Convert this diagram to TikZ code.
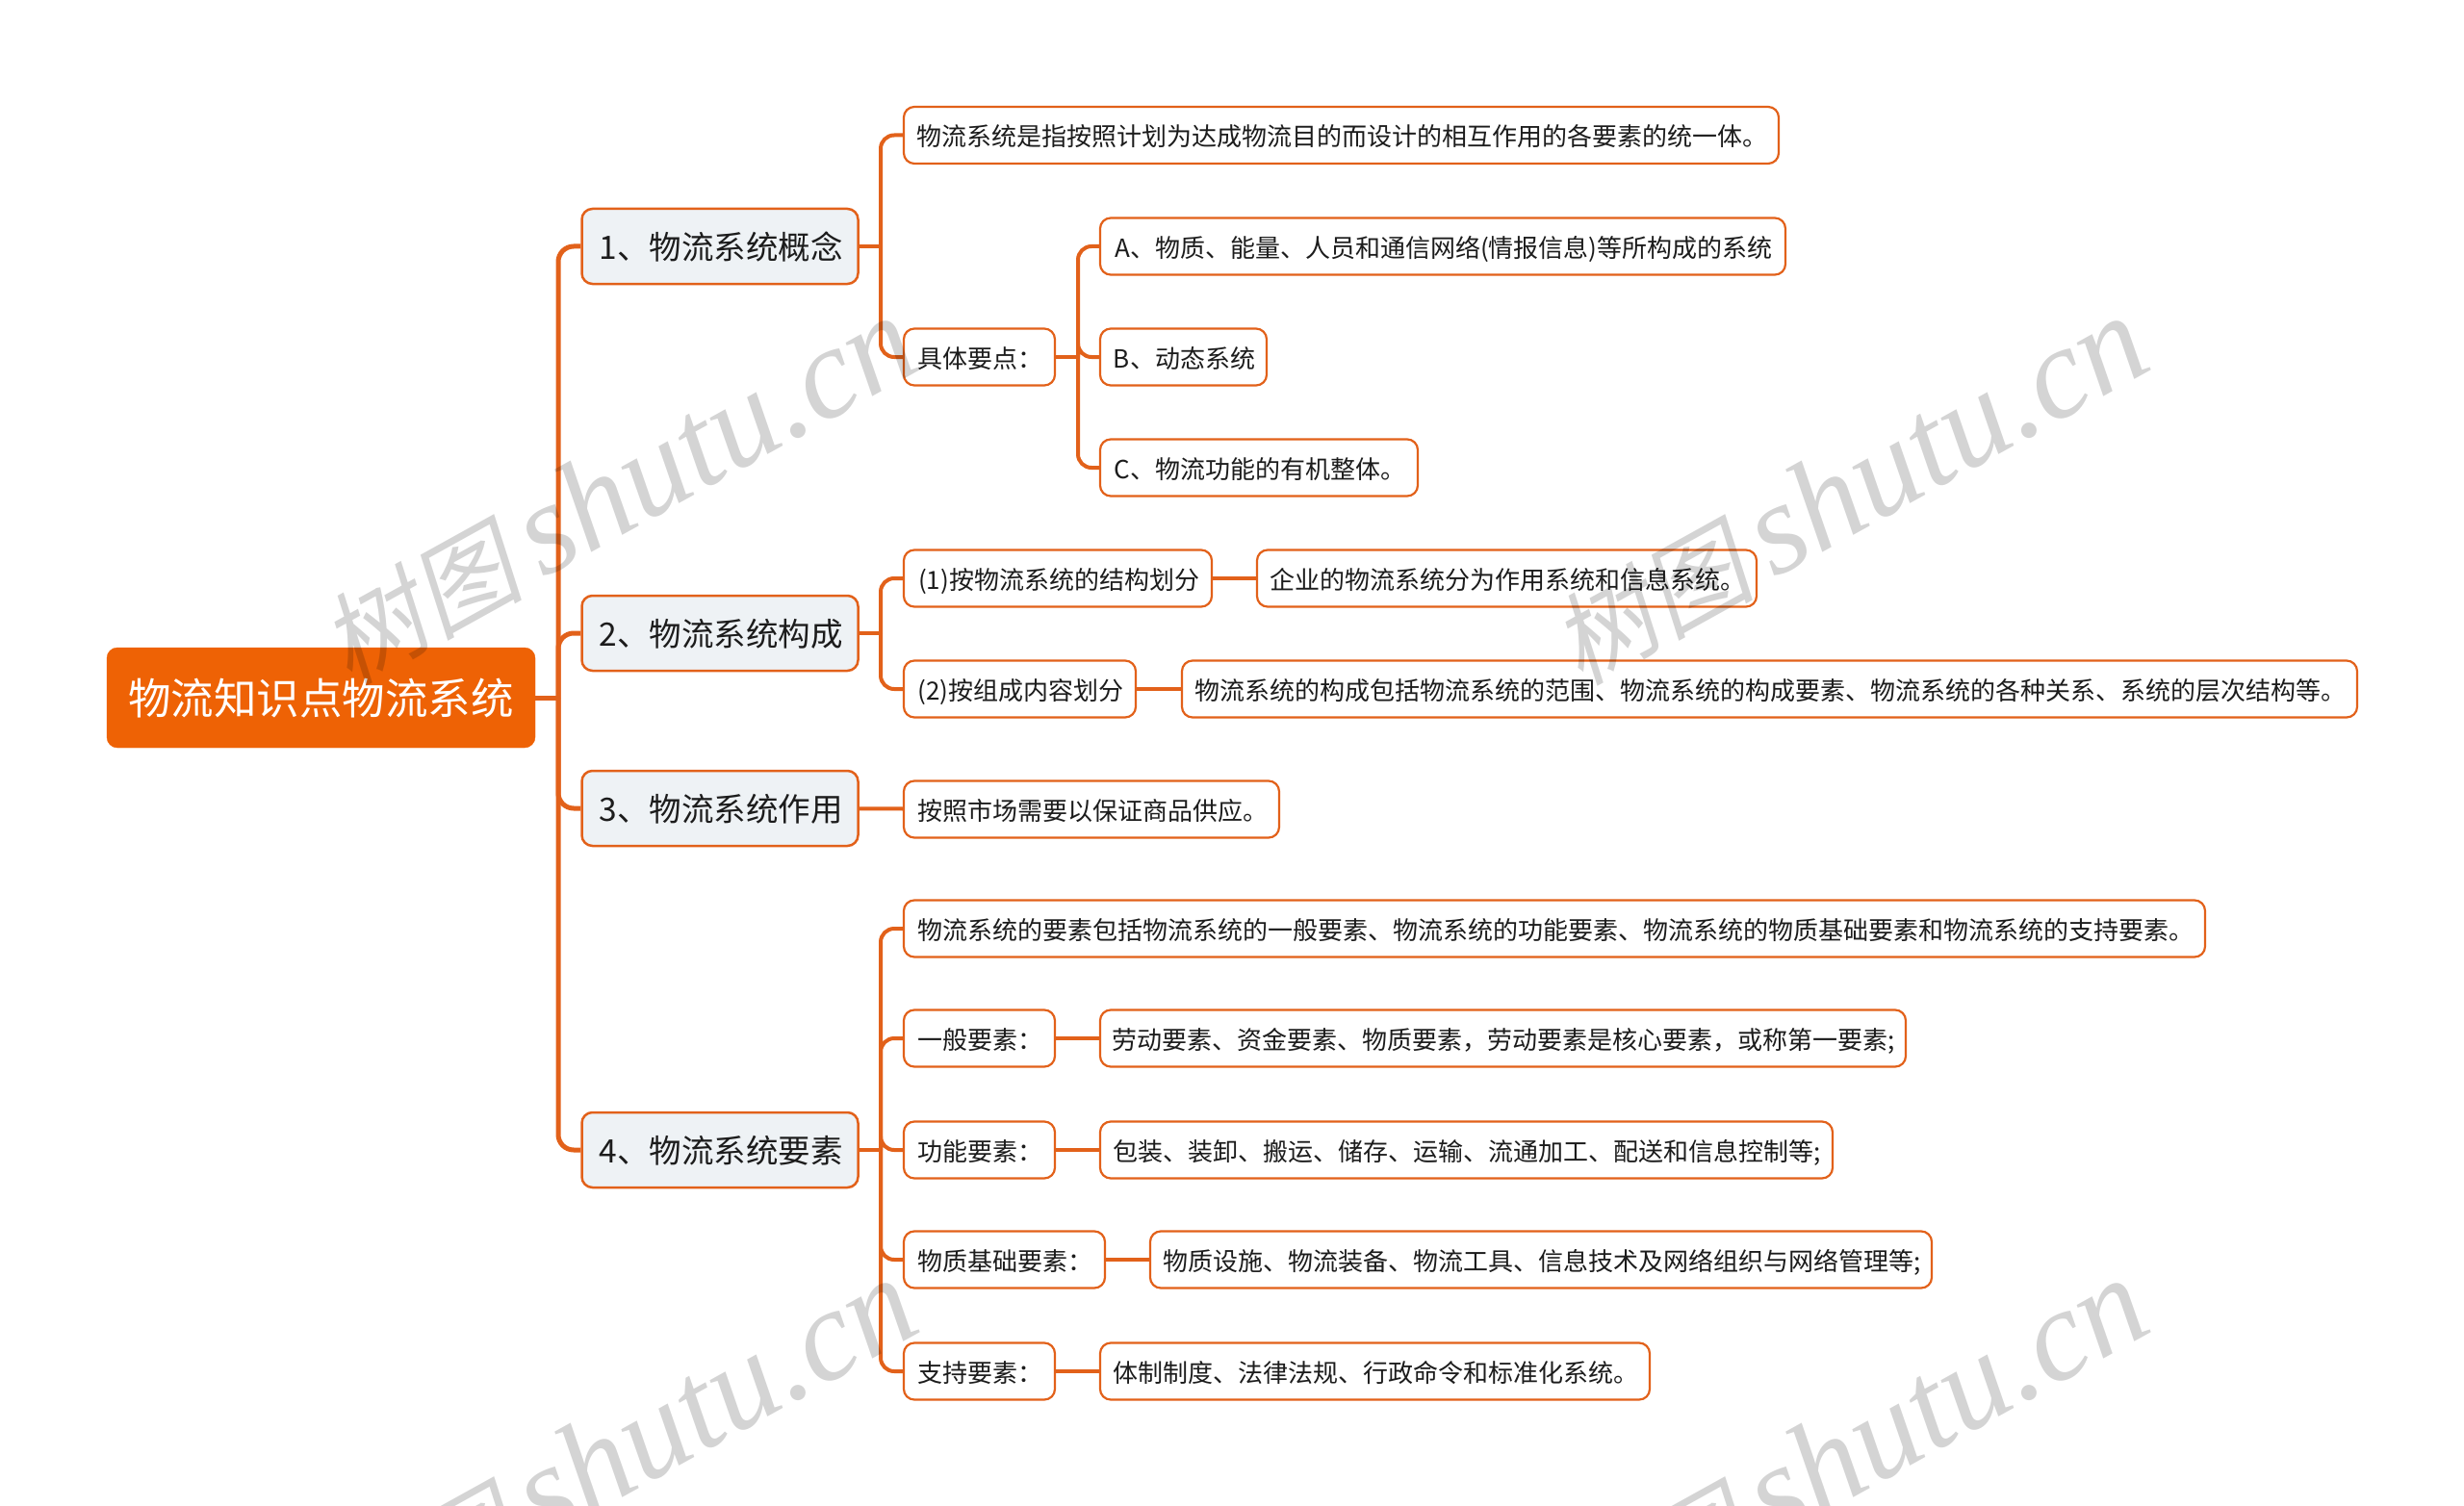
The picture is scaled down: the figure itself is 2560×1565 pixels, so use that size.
\documentclass[tikz,border=0pt]{standalone}
\usepackage{xcolor}
\usepackage{fontspec}
\setmainfont{Noto Sans CJK SC}
\newfontfamily\wmlatin{Liberation Serif}
\newfontfamily\wmcjk[FakeSlant=0.2]{Noto Sans CJK SC}
\definecolor{mainorange}{HTML}{EE6205}
\definecolor{linkorange}{HTML}{E2611A}
\definecolor{topicgray}{HTML}{EEF2F5}
\definecolor{textdark}{HTML}{1C1C1C}

\newcommand{\wmtext}{{\wmcjk\fontsize{105pt}{120pt}\selectfont 树图}\hspace{20pt}{\wmlatin\itshape\fontsize{135pt}{130pt}\selectfont shutu.cn}}

\begin{document}
\begin{tikzpicture}[
    x=1pt, y=-1pt,
    rootbox/.style={rectangle, rounded corners=11pt, fill=mainorange, draw=mainorange, minimum width=445pt, minimum height=104pt, align=center, text=white, font=\fontsize{44.5pt}{52pt}\selectfont},
    topic/.style={rectangle, rounded corners=11pt, draw=linkorange, line width=2.5pt, fill=topicgray, minimum width=287pt, minimum height=78pt, inner xsep=0pt, inner ysep=0pt, text height=34pt, text depth=7pt, text=textdark, font=\fontsize{33.5pt}{40pt}\selectfont, execute at begin node={\hspace*{2pt}}},
    leaf/.style={rectangle, rounded corners=11pt, draw=linkorange, line width=2.2pt, fill=white, minimum height=59pt, inner xsep=0pt, inner ysep=0pt, text height=28pt, text depth=5.6pt, text=textdark, font=\fontsize{26pt}{32pt}\selectfont, execute at begin node={\hspace*{2pt}}},
    mainlink/.style={draw=linkorange, line width=5pt, rounded corners=16pt},
    sublink/.style={draw=linkorange, line width=4pt, rounded corners=14pt},
    wmark/.style={rotate=29, text=black, text opacity=0.17, inner sep=0pt}
]
    \useasboundingbox (0,0) rectangle (2560,1565);

    % Root
    \node[rootbox] (root) at (333.5,725) {物流知识点物流系统};

    % Topics
    \node[topic] (sys1) at (748,256) {1、物流系统概念};
    \node[topic] (sys2) at (748,658) {2、物流系统构成};
    \node[topic] (sys3) at (748,840) {3、物流系统作用};
    \node[topic] (sys4) at (748,1195) {4、物流系统要素};

    % Topic 1
    \node[leaf, minimum width=909pt] (define) at (1393.5,140.5) {物流系统是指按照计划为达成物流目的而设计的相互作用的各要素的统一体。};
    \node[leaf, minimum width=157pt] (points) at (1017.5,371) {具体要点：};
    \node[leaf, minimum width=712pt] (pointa) at (1499,256) {A、物质、能量、人员和通信网络(情报信息)等所构成的系统};
    \node[leaf, minimum width=173pt] (pointb) at (1229.5,371) {B、动态系统};
    \node[leaf, minimum width=330pt] (pointc) at (1308,486) {C、物流功能的有机整体。};

    % Topic 2
    \node[leaf, minimum width=320pt] (bystruct) at (1099,601) {(1)按物流系统的结构划分};
    \node[leaf, minimum width=519pt] (structtxt) at (1565.5,601) {企业的物流系统分为作用系统和信息系统。};
    \node[leaf, minimum width=241pt] (bycontent) at (1059.5,716) {(2)按组成内容划分};
    \node[leaf, minimum width=1221pt] (contenttxt) at (1838.5,716) {物流系统的构成包括物流系统的范围、物流系统的构成要素、物流系统的各种关系、系统的层次结构等。};

    % Topic 3
    \node[leaf, minimum width=390pt] (effect) at (1134,841) {按照市场需要以保证商品供应。};

    % Topic 4
    \node[leaf, minimum width=1352pt] (element) at (1615,965) {物流系统的要素包括物流系统的一般要素、物流系统的功能要素、物流系统的物质基础要素和物流系统的支持要素。};
    \node[leaf, minimum width=157pt] (general) at (1017.5,1079) {一般要素：};
    \node[leaf, minimum width=837pt] (generaltxt) at (1561.5,1079) {劳动要素、资金要素、物质要素，劳动要素是核心要素，或称第一要素;};
    \node[leaf, minimum width=157pt] (func) at (1017.5,1195) {功能要素：};
    \node[leaf, minimum width=761pt] (functxt) at (1523.5,1195) {包装、装卸、搬运、储存、运输、流通加工、配送和信息控制等;};
    \node[leaf, minimum width=209pt] (base) at (1043.5,1309) {物质基础要素：};
    \node[leaf, minimum width=812pt] (basetxt) at (1601,1309) {物质设施、物流装备、物流工具、信息技术及网络组织与网络管理等;};
    \node[leaf, minimum width=157pt] (support) at (1017.5,1425) {支持要素：};
    \node[leaf, minimum width=571pt] (supporttxt) at (1428.5,1425) {体制制度、法律法规、行政命令和标准化系统。};

    % Junctions
    \coordinate (busroot) at (580,725);
    \coordinate (busone) at (915,256);
    \coordinate (bustwo) at (915,658);
    \coordinate (busfour) at (915,1195);
    \coordinate (buspoints) at (1120,371);

    % Links from root
    \draw[mainlink] (root.east) -- (busroot);
    \foreach \n in {sys1,sys2,sys3,sys4}
        \draw[mainlink] (busroot) |- (\n.west);

    % Links - topic 1
    \draw[sublink] (sys1.east) -- (busone);
    \foreach \n in {define,points}
        \draw[sublink] (busone) |- (\n.west);
    \draw[sublink] (points.east) -- (buspoints);
    \foreach \n in {pointa,pointb,pointc}
        \draw[sublink] (buspoints) |- (\n.west);

    % Links - topic 2
    \draw[sublink] (sys2.east) -- (bustwo);
    \foreach \n in {bystruct,bycontent}
        \draw[sublink] (bustwo) |- (\n.west);
    \draw[sublink] (bystruct) -- (structtxt);
    \draw[sublink] (bycontent) -- (contenttxt);

    % Links - topic 3
    \draw[sublink] (sys3) -- (effect);

    % Links - topic 4
    \draw[sublink] (sys4.east) -- (busfour);
    \foreach \n in {element,general,func,base,support}
        \draw[sublink] (busfour) |- (\n.west);
    \draw[sublink] (general) -- (generaltxt);
    \draw[sublink] (func) -- (functxt);
    \draw[sublink] (base) -- (basetxt);
    \draw[sublink] (support) -- (supporttxt);

    % Watermarks
    \node[wmark] (wm1) at (642,510) {\wmtext};
    \node[wmark] (wm2) at (1921,510) {\wmtext};
    \node[wmark] (wm3) at (642,1510) {\wmtext};
    \node[wmark] (wm4) at (1921,1510) {\wmtext};
\end{tikzpicture}
\end{document}
